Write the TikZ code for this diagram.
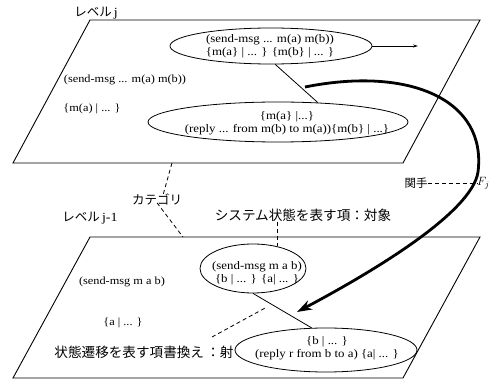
\documentclass[tikz,border=0pt]{standalone}
\usepackage{fontspec}
\setmainfont{Liberation Serif}[FakeStretch=1.12]
\newfontfamily\jp{Noto Sans CJK JP}
\usetikzlibrary{shapes.geometric,arrows.meta}
\begin{document}
\begin{tikzpicture}[x=1pt,y=-1pt,
  plane/.style={draw,line width=0.9pt},
  ell/.style={draw,ellipse,inner sep=0pt,line width=0.8pt},
  etext/.style={inner sep=0pt,align=center,font=\fontsize{11.5}{13}\selectfont},
  txt/.style={inner sep=0pt,font=\fontsize{11}{13}\selectfont},
  jlabel/.style={inner sep=0pt,font=\jp\fontsize{12.5}{14}\selectfont},
  biglabel/.style={inner sep=0pt,font=\jp\fontsize{13.6}{15}\selectfont},
  dashln/.style={dash pattern=on 4pt off 3pt,line width=0.8pt},
  conn/.style={line width=0.8pt},
  functor/.style={line width=2.8pt,-{Stealth[length=15pt,width=10pt]}}
]
\useasboundingbox (0,0) rectangle (499,385);
% planes
\draw[plane] (90,20) -- (480,20) -- (403,163) -- (13,163) -- cycle;
\draw[plane] (90,237) -- (480,237) -- (403,378) -- (13,378) -- cycle;
% level labels
\node[jlabel] (lvj) at (96,13) {レベル\,{\rmfamily j}};
\node[jlabel] (lvj1) at (90,218) {レベル\,{\rmfamily j-1}};
% upper level ellipses
\node[ell,minimum width=202pt,minimum height=36pt] (e1) at (271,46) {};
\node[etext] (e1t) at (270,46) {(send-msg ... m(a) m(b))\\\{m(a\} | ... \} \{m(b\} | ... \}};
\node[ell,minimum width=260pt,minimum height=40pt] (e2) at (278,122) {};
\node[etext] (e2t) at (287,123) {\{m(a\} |...\}\\(reply ... from m(b) to m(a))\{m(b\} | ...\}};
\coordinate (e1out) at (418,46);
\draw[conn,-{Stealth[length=5pt,width=3pt]}] (e1.east) -- (e1out);
\draw[conn] (e1.283) -- (e2.26);
\node[txt] (t1) at (125,80) {(send-msg ... m(a) m(b))};
\node[txt] (t2) at (92,109) {\{m(a) | ... \}};
% lower level ellipses
\node[ell,minimum width=106pt,minimum height=49pt] (l1) at (253,268.5) {};
\node[etext] (l1t) at (257,273) {(send-msg m a b)\\\{b | ... \} \{a| ... \}};
\node[ell,minimum width=182pt,minimum height=44pt] (l2) at (326,350) {};
\node[etext] (l2t) at (327,348) {\{b | ... \}\\(reply r from b to a) \{a| ... \}};
\draw[conn] (l1.south) -- (l2.123);
\node[txt] (t3) at (122,282) {(send-msg m a b)};
\node[txt] (t4) at (123,323) {\{a | ... \}};
% category
\node[jlabel] (cat) at (157,199) {カテゴリ};
\coordinate (catup) at (172,163);
\coordinate (catdn) at (183,237);
\draw[dashln] (catup) -- ([xshift=6pt,yshift=-2pt]cat.north);
\draw[dashln] ([yshift=2pt]cat.south) -- (catdn);
% object
\node[biglabel] (obj) at (303,215) {システム状態を表す項：対象};
\draw[dashln] (obj.south -| l1.42) -- (l1.42);
% morphism
\node[biglabel] (mor) at (144,352) {状態遷移を表す項書換え\,：射};
\coordinate (morend) at (267,307);
\coordinate (morstart) at (212,337);
\draw[dashln] (morstart) -- (morend);
% functor
\coordinate (fs) at (305,87);
\coordinate (fe) at (297,312);
\draw[functor] (fs) .. controls (410,66) and (487,100) .. (478,172)
                    .. controls (472,212) and (376,270) .. (fe);
\node[jlabel,font=\jp\fontsize{11.5}{13}\selectfont] (kan) at (416,183) {関手};
\node[inner sep=0pt,anchor=west,font=\fontsize{13}{15}\selectfont] (fj) at (477,183) {$F_j$};
\draw[dashln] (kan.east) -- (fj.west);
\end{tikzpicture}
\end{document}
